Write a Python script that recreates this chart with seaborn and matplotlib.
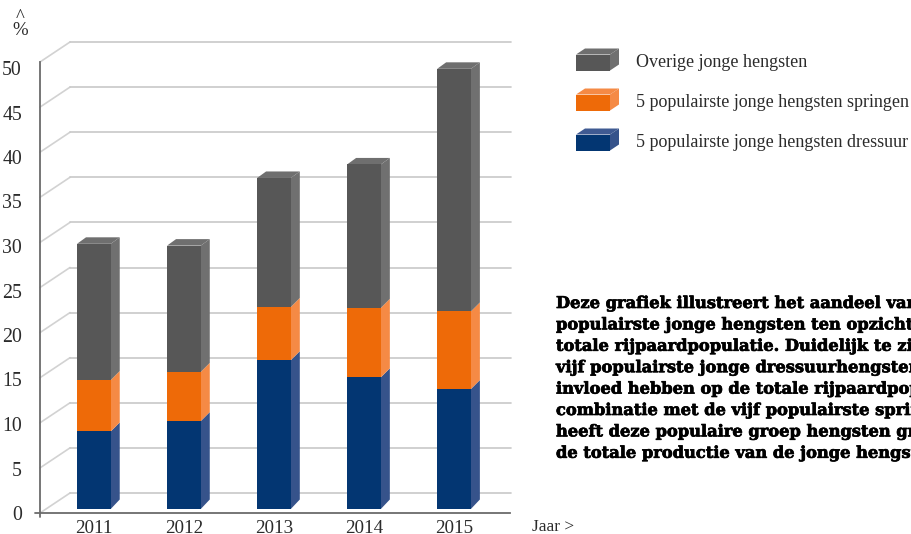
import matplotlib
matplotlib.use("Agg")
import matplotlib.patheffects as pe
import matplotlib.pyplot as plt
import pandas as pd
import seaborn as sns
from matplotlib.patches import Polygon, Rectangle
from matplotlib.transforms import Affine2D

W, H = 912, 534

jaren = ["2011", "2012", "2013", "2014", "2015"]
dressuur = [8.6, 9.75, 16.5, 14.6, 13.3]
springen = [5.7, 5.45, 5.9, 7.7, 8.6]
overige = [15.1, 14.0, 14.3, 15.9, 26.9]
y_ticks = [0, 5, 10, 15, 20, 25, 30, 35, 40, 45, 50]

legend_labels = [
    "Overige jonge hengsten",
    "5 populairste jonge hengsten springen",
    "5 populairste jonge hengsten dressuur",
]
tekst = [
    "Deze grafiek illustreert het aandeel van",
    "populairste jonge hengsten ten opzichte",
    "totale rijpaardpopulatie. Duidelijk te zien",
    "vijf populairste jonge dressuurhengsten",
    "invloed hebben op de totale rijpaardpopulatie",
    "combinatie met de vijf populairste springen",
    "heeft deze populaire groep hengsten groot",
    "de totale productie van de jonge hengsten",
]

# front, side, top
GRIJS = ("#575757", "#707070", "#6f6f6f")
ORANJE = ("#ee6a08", "#f58a45", "#f58a45")
BLAUW = ("#033672", "#36538b", "#3f5a92")

SERIF = "Liberation Serif"
TEXT_COL = "#2b2b2b"
AS_COL = "#6b6b6b"

sns.set_theme(style="white", rc={"font.family": SERIF})
fig = plt.figure(figsize=(W / 100, H / 100), dpi=100)
ax = fig.add_axes([40 / W, (H - 513) / H, 470 / W, 451 / H])
ax.patch.set_alpha(0)

df = pd.DataFrame({"jaar": jaren, "d": dressuur, "s": springen, "o": overige})
df["bodem_s"] = df["d"]
df["bodem_o"] = df["d"] + df["s"]

n_voor = 0
bar_sets = []
for kol, bodem, kleur in [("d", None, BLAUW), ("s", "bodem_s", ORANJE), ("o", "bodem_o", GRIJS)]:
    kw = {} if bodem is None else {"bottom": df[bodem].values}
    sns.barplot(data=df, x="jaar", y=kol, color=kleur[0], saturation=1, width=33.7 / 90,
                linewidth=0, ax=ax, **kw)
    bar_sets.append((ax.patches[n_voor:], kleur))
    n_voor = len(ax.patches)

# 90 px per year, the axis runs on a bit past the last bar
ax.set_xlim(-0.5, 4.72)
ax.set_ylim(0, 50)
ax.set_xlabel("")
ax.set_ylabel("")

# plane of the bars sits a bit behind the axis, back wall further behind
BAR_DX, BAR_DY = 8.85, 4
DIEPTE_X = 9
DY_ONDER, DY_NAAD, DY_TOP = 9.5, 9, 6.5
WALL_DX, WALL_DY = 30, 20
bar_shift = ax.transData + Affine2D().translate(BAR_DX, BAR_DY)
fig.canvas.draw()

# back wall gridlines and the slanted bits on the left wall
for t in y_ticks:
    x0, y0 = ax.transData.transform((-0.5, t))
    ax.plot([x0, x0 + WALL_DX], [y0, y0 + WALL_DY], color="#d2d2d2",
            lw=1.2, transform=None, zorder=0.5, clip_on=False)
    ax.plot([x0 + WALL_DX, 510.5], [y0 + WALL_DY, y0 + WALL_DY], color="#c8c8c8",
            lw=1.2, transform=None, zorder=0.5, clip_on=False)

for bars, kleur in bar_sets:
    bovenste = kleur is GRIJS
    onderste = kleur is BLAUW
    for b in bars:
        b.set_transform(bar_shift)
        b.set_zorder(3)
        x, y, w, h = b.get_x(), b.get_y(), b.get_width(), b.get_height()
        (x0, y0), (x1, y1) = bar_shift.transform([(x, y), (x + w, y + h)])
        dy_o = DY_ONDER if onderste else DY_NAAD
        dy_b = DY_TOP if bovenste else DY_NAAD
        zijkant = [(x1, y0), (x1 + DIEPTE_X, y0 + dy_o), (x1 + DIEPTE_X, y1 + dy_b), (x1, y1)]
        ax.add_patch(Polygon(zijkant, closed=True, fc=kleur[1], ec="none", transform=None,
                             zorder=2.5, clip_on=False))
        # only the top of the stack shows its lid
        if bovenste:
            deksel = [(x0, y1), (x1, y1), (x1 + DIEPTE_X, y1 + DY_TOP), (x0 + DIEPTE_X, y1 + DY_TOP)]
            ax.add_patch(Polygon(deksel, closed=True, fc=kleur[2], ec="none", transform=None,
                                 zorder=2.5, clip_on=False))

sns.despine(ax=ax, top=True, right=True)
for s in ["left", "bottom"]:
    ax.spines[s].set_color(AS_COL)
    ax.spines[s].set_linewidth(1.3)

# little cross where the two axes meet
ax.plot([35, 40], [H - 513, H - 513], color=AS_COL, lw=1.3, transform=None, clip_on=False)
ax.plot([40, 40], [H - 513, H - 516.5], color=AS_COL, lw=1.3, transform=None, clip_on=False)

ax.set_yticks(y_ticks)
ax.tick_params(axis="y", left=False, length=0, labelsize=14.3, labelcolor=TEXT_COL, pad=13)
ax.tick_params(axis="x", bottom=False, length=0, labelsize=13.8, labelcolor=TEXT_COL, pad=5)
for lab in ax.get_xticklabels():
    lab.set_transform(lab.get_transform() + Affine2D().translate(BAR_DX, 0))
# labels are spaced slightly tighter than the axis itself
for lab, t in zip(ax.get_yticklabels(), y_ticks):
    lab.set_transform(lab.get_transform() + Affine2D().translate(0, -6 * t / 50))


def px_text(x, y, s, **kw):
    fig.text(x / W, (H - y) / H, s, **kw)


px_text(20, 24, "^\n%", fontsize=13.5, color=TEXT_COL, ha="center", va="center", linespacing=0.68)
px_text(532, 527, "Jaar >", fontsize=12.5, color=TEXT_COL, va="center")

# legend, boxes built in pixels like the 3D swatches in the picture
for (y_mid, label, kleur) in zip([62.5, 102.5, 142.5], legend_labels, [GRIJS, ORANJE, BLAUW]):
    x0, x1, top, bottom = 576, 610, H - (y_mid - 8), H - (y_mid + 8)
    fig.add_artist(Rectangle((x0, bottom), x1 - x0, top - bottom, fc=kleur[0], ec="none", transform=None))
    fig.add_artist(Polygon([(x1, bottom), (x1 + 9, bottom + 6), (x1 + 9, top + 6), (x1, top)],
                           fc=kleur[1], ec="none", transform=None))
    fig.add_artist(Polygon([(x0, top), (x1, top), (x1 + 9, top + 6), (x0 + 9, top + 6)],
                           fc=kleur[2], ec="none", transform=None))
    px_text(636, y_mid, label, fontsize=13, color=TEXT_COL, va="center")

# paragraph runs off the right edge, same as the picture; stroke makes it heavier
for i, regel in enumerate(tekst):
    px_text(556, 303.5 + i * 21.4, regel, fontsize=11.7, color="black", va="center",
            family="DejaVu Serif", weight="bold",
            path_effects=[pe.withStroke(linewidth=0.5, foreground="black")])

fig.savefig("out.png", dpi=100, facecolor="white")
